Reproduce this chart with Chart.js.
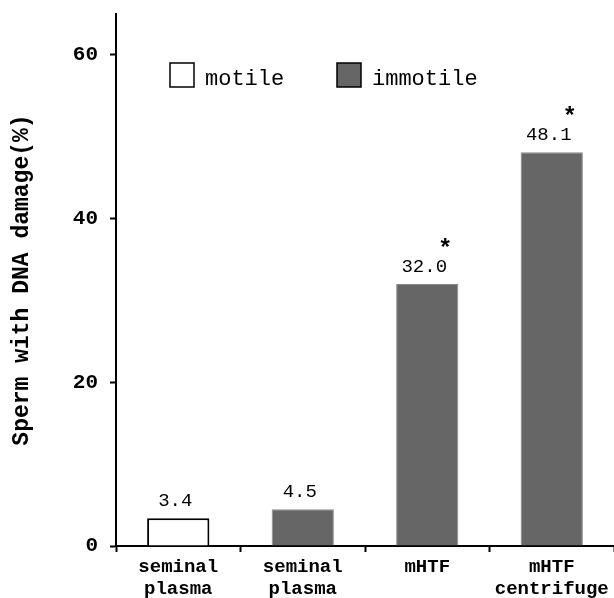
<!DOCTYPE html>
<html>
<head>
<meta charset="utf-8">
<script src="https://cdn.jsdelivr.net/npm/chart.js@4.4.0/dist/chart.umd.min.js"></script>
<style>
    body { margin: 0; background: #fff; }
    #wrap { width: 614px; height: 598px; }
</style>
</head>
<body>
<div id="wrap"><canvas id="dnaChart"></canvas></div>
<script>
const categories = [['seminal', 'plasma'], ['seminal', 'plasma'], 'mHTF', ['mHTF', 'centrifuge']];
const motile = [3.4, null, null, null];
const immotile = [null, 4.5, 32.0, 48.1];
const significant = [false, false, true, true];
const yTicks = [0, 20, 40, 60];

const MONO = '"Liberation Mono", "Courier New", monospace';

// value labels + asterisks over the bars
const barLabels = {
    id: 'barLabels',
    afterDatasetsDraw(chart) {
        const ctx = chart.ctx;
        ctx.save();
        ctx.fillStyle = '#000';
        ctx.textAlign = 'center';
        chart.data.datasets.forEach((ds, i) => {
            chart.getDatasetMeta(i).data.forEach((bar, j) => {
                const v = ds.data[j];
                if (v === null) return;
                ctx.font = '19px ' + MONO;
                ctx.textBaseline = 'bottom';
                ctx.fillText(v.toFixed(1), bar.x - 3, bar.y - 8);
                if (significant[j]) {
                    ctx.font = 'bold 24px ' + MONO;
                    ctx.textBaseline = 'alphabetic';
                    ctx.fillText('*', bar.x + 18, bar.y - 28);
                }
            });
        });
        ctx.restore();
    }
};

// legend sitting inside the plot
const innerLegend = {
    id: 'innerLegend',
    afterDraw(chart) {
        const ctx = chart.ctx;
        const area = chart.chartArea;
        const y = area.top + 49;
        const starts = [area.left + 54, area.left + 221];
        ctx.save();
        ctx.font = '22px ' + MONO;
        ctx.textBaseline = 'middle';
        ctx.textAlign = 'left';
        chart.data.datasets.forEach((ds, i) => {
            const x = starts[i];
            ctx.fillStyle = ds.backgroundColor;
            ctx.fillRect(x, y, 24, 24);
            ctx.lineWidth = 1.5;
            ctx.strokeStyle = '#000';
            ctx.strokeRect(x, y, 24, 24);
            ctx.fillStyle = '#000';
            ctx.fillText(ds.label, x + 35, y + 16);
        });
        ctx.restore();
    }
};

new Chart(document.getElementById('dnaChart'), {
    type: 'bar',
    data: {
        labels: categories,
        datasets: [
            {
                label: 'motile',
                data: motile,
                backgroundColor: '#ffffff',
                borderColor: '#000000',
                borderWidth: 2
            },
            {
                label: 'immotile',
                data: immotile,
                backgroundColor: '#666666',
                borderColor: '#8a8a8a',
                borderWidth: 1
            }
        ]
    },
    options: {
        responsive: true,
        maintainAspectRatio: false,
        animation: false,
        layout: { padding: { top: 14, right: 0, left: 0, bottom: 0 } },
        datasets: {
            bar: { categoryPercentage: 1.0, barPercentage: 0.5 }
        },
        plugins: {
            legend: { display: false },
            tooltip: { enabled: false }
        },
        scales: {
            x: {
                stacked: true,
                grid: {
                    drawOnChartArea: false,
                    tickLength: 6,
                    tickWidth: 2,
                    tickColor: '#000'
                },
                border: { color: '#000', width: 2 },
                ticks: {
                    color: '#000',
                    font: { family: MONO, size: 19, weight: 'bold', lineHeight: 1.15 },
                    padding: 4,
                    maxRotation: 0,
                    autoSkip: false
                },
                afterFit(scale) { scale.height = 52; }
            },
            y: {
                stacked: true,
                min: 0,
                max: 65,
                afterBuildTicks(scale) {
                    scale.ticks = yTicks.map(v => ({ value: v }));
                },
                grid: {
                    drawOnChartArea: false,
                    tickLength: 6,
                    tickWidth: 2,
                    tickColor: '#000'
                },
                border: { color: '#000', width: 2 },
                ticks: {
                    color: '#000',
                    font: { family: MONO, size: 21, weight: 'bold' },
                    padding: 12
                },
                title: {
                    display: true,
                    text: 'Sperm with DNA damage(%)',
                    color: '#000',
                    font: { family: MONO, size: 23, weight: 'bold' },
                    padding: { top: 8, bottom: 0 }
                },
                afterFit(scale) {
                    scale.width = 116;
                    scale.paddingTop = 0;
                    scale.paddingBottom = 0;
                }
            }
        }
    },
    plugins: [barLabels, innerLegend]
});
</script>
</body>
</html>
